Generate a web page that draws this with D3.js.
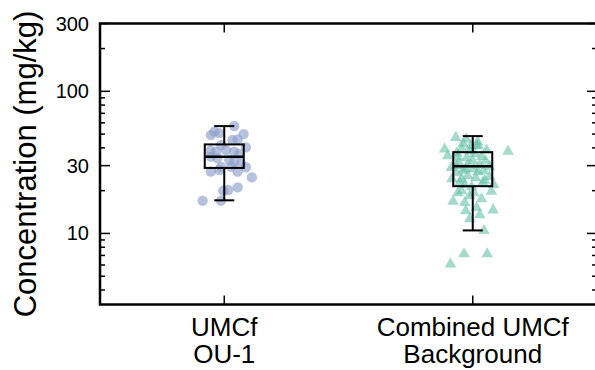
<!DOCTYPE html>
<html>
<head>
<meta charset="utf-8">
<script src="https://cdn.jsdelivr.net/npm/d3@7"></script>
<style>
  html, body { margin: 0; padding: 0; background: #fff; }
  svg { display: block; }
  text { font-family: "Liberation Sans", Arial, sans-serif; fill: #000; }
</style>
</head>
<body>
<svg id="chart" width="595" height="370"></svg>
<script>
// ---------------- data ----------------
const categories = ["UMCf OU-1", "Combined UMCf Background"];
const categoryLines = [["UMCf", "OU-1"], ["Combined UMCf", "Background"]];

const majorTicks = [10, 30, 100, 300];
const majorTickLabels = ["10", "30", "100", "300"];
const minorTicks = [4, 5, 6, 7, 8, 9, 20, 40, 50, 60, 70, 80, 90, 200];

// box statistics (mg/kg)
const whiskerLow = [17.1, 10.5];
const quartile1 = [28.9, 21.5];
const medians = [34.6, 29.7];
const quartile3 = [42.3, 37.3];
const whiskerHigh = [56.9, 48.4];

// UMCf OU-1 samples (mg/kg) and their horizontal jitter (category units)
const ou1Values = [57.0, 49.2, 52.0, 50.8, 50.0, 45.4, 45.9, 40.3, 38.2, 37.6,
                   38.6, 37.6, 36.2, 34.7, 32.8, 31.9, 31.1, 29.4, 29.4, 29.2,
                   27.2, 27.9, 27.2, 24.8, 20.0, 20.2, 21.1, 17.0, 17.0, 41.9, 33.9];
const ou1Jitter = [0.040, -0.054, -0.040, -0.020, 0.078, 0.033, 0.054, 0.087, -0.056, -0.033,
                   0.007, 0.040, 0.060, -0.054, 0.020, 0.040, 0.067, -0.013, 0.027, 0.087,
                   -0.054, -0.020, 0.054, 0.111, -0.004, 0.016, 0.054, -0.087, -0.013, -0.012, -0.028];

// Combined UMCf Background samples (mg/kg) and jitter
const bgValues = [47.9, 39.7, 46.7, 41.9, 38.3, 39.1, 43.3, 34.9, 29.4, 23.1,
                  23.1, 20.2, 20.0, 17.0, 16.7, 17.7, 15.4, 14.8, 12.8, 10.6,
                  7.28, 7.28, 6.15, 18.6, 30.4, 28.1, 27.4, 23.9, 24.5, 42.1,
                  39.9, 38.6, 36.8, 35.1, 34.5, 32.8, 32.8, 31.8, 30.8, 30.8,
                  29.8, 28.8, 27.9, 27.0, 25.8, 24.9, 25.4, 22.3, 21.5, 44.7,
                  41.9, 37.4, 35.6, 28.8, 24.5, 22.3, 19.5, 19.5, 14.6, 13.7];
const bgJitter = [-0.068, -0.113, -0.026, 0.015, 0.142, 0.055, -0.039, -0.060, -0.086, -0.052,
                  0.041, -0.045, 0.075, -0.079, -0.032, 0.035, 0.015, 0.082, -0.012, 0.045,
                  -0.035, 0.058, -0.090, -0.012, -0.066, -0.039, 0.021, 0.048, -0.045, 0.021,
                  -0.044, -0.012, 0.008, 0.036, -0.024, 0.000, 0.052, -0.056, -0.020, 0.028,
                  0.068, 0.004, 0.044, -0.064, -0.020, 0.012, 0.068, -0.032, -0.004, 0.020,
                  -0.008, -0.064, -0.101, -0.028, -0.084, 0.084, -0.060, 0.004, -0.028, 0.028];

// ---------------- drawing ----------------
const plotL = 100, plotR = 597, plotT = 23.5, plotB = 304.5;

const svg = d3.select("#chart");

const x = d3.scaleLinear().domain([0.5, 2.5]).range([plotL, plotR]);
const y = d3.scaleLog().domain([Math.sqrt(10), 300]).range([plotB, plotT]);

const blue = "#8da0cb", green = "#66c2a5";

// points
const gPts = svg.append("g");
gPts.selectAll("circle.ou1")
  .data(ou1Values.map((v, i) => ({ v, j: ou1Jitter[i] })))
  .join("circle")
  .attr("cx", d => x(1 + d.j))
  .attr("cy", d => y(d.v))
  .attr("r", 5.2)
  .attr("fill", blue)
  .attr("fill-opacity", 0.65);

const tri = d3.symbol().type(d3.symbolTriangle).size(58);
gPts.selectAll("path.bg")
  .data(bgValues.map((v, i) => ({ v, j: bgJitter[i] })))
  .join("path")
  .attr("d", tri)
  .attr("transform", d => `translate(${x(2 + d.j)},${y(d.v) + 0.8})`)
  .attr("fill", green)
  .attr("fill-opacity", 0.6);

// boxes
const boxHalf = 19.5, capHalf = 10;
const gBox = svg.append("g").attr("stroke", "#000").attr("fill", "none");
categories.forEach((c, i) => {
  const cx = x(i + 1);
  const g = gBox.append("g");
  g.append("line").attr("x1", cx).attr("x2", cx).attr("y1", y(quartile1[i])).attr("y2", y(whiskerLow[i])).attr("stroke-width", 2);
  g.append("line").attr("x1", cx).attr("x2", cx).attr("y1", y(quartile3[i])).attr("y2", y(whiskerHigh[i])).attr("stroke-width", 2);
  g.append("line").attr("x1", cx - capHalf).attr("x2", cx + capHalf).attr("y1", y(whiskerLow[i])).attr("y2", y(whiskerLow[i])).attr("stroke-width", 2);
  g.append("line").attr("x1", cx - capHalf).attr("x2", cx + capHalf).attr("y1", y(whiskerHigh[i])).attr("y2", y(whiskerHigh[i])).attr("stroke-width", 2);
  g.append("rect")
    .attr("x", cx - boxHalf).attr("width", 2 * boxHalf)
    .attr("y", y(quartile3[i])).attr("height", y(quartile1[i]) - y(quartile3[i]))
    .attr("stroke-width", 2);
  g.append("line").attr("x1", cx - boxHalf).attr("x2", cx + boxHalf).attr("y1", y(medians[i])).attr("y2", y(medians[i])).attr("stroke-width", 2.5);
});

// ticks (inward on all sides)
const gT = svg.append("g").attr("stroke", "#000").attr("stroke-width", 1.5);
majorTicks.forEach(t => {
  gT.append("line").attr("x1", plotL).attr("x2", plotL + 10).attr("y1", y(t)).attr("y2", y(t));
  gT.append("line").attr("x1", plotR).attr("x2", plotR - 10).attr("y1", y(t)).attr("y2", y(t));
});
minorTicks.forEach(t => {
  gT.append("line").attr("x1", plotL).attr("x2", plotL + 5).attr("y1", y(t)).attr("y2", y(t));
  gT.append("line").attr("x1", plotR).attr("x2", plotR - 5).attr("y1", y(t)).attr("y2", y(t));
});
categories.forEach((c, i) => {
  gT.append("line").attr("x1", x(i + 1)).attr("x2", x(i + 1)).attr("y1", plotB).attr("y2", plotB - 9);
  gT.append("line").attr("x1", x(i + 1)).attr("x2", x(i + 1)).attr("y1", plotT).attr("y2", plotT + 9);
});

// frame
svg.append("rect")
  .attr("x", plotL).attr("y", plotT)
  .attr("width", plotR - plotL).attr("height", plotB - plotT)
  .attr("fill", "none").attr("stroke", "#000").attr("stroke-width", 2.5);

// y tick labels
svg.append("g").selectAll("text")
  .data(majorTicks)
  .join("text")
  .attr("x", 89)
  .attr("y", d => y(d))
  .attr("dy", "0.35em")
  .attr("text-anchor", "end")
  .attr("font-size", 20)
  .text((d, i) => majorTickLabels[i]);

// x category labels (two separate lines)
const gCat = svg.append("g").attr("text-anchor", "middle").attr("font-size", 26);
categories.forEach((c, i) => {
  categoryLines[i].forEach((ln, k) => {
    gCat.append("text").attr("x", x(i + 1)).attr("y", 336 + k * 26.5).text(ln);
  });
});

// y axis title
svg.append("text")
  .attr("transform", `translate(35.5,${(plotT + plotB) / 2}) rotate(-90)`)
  .attr("text-anchor", "middle")
  .attr("font-size", 31)
  .text("Concentration (mg/kg)");
</script>
</body>
</html>
